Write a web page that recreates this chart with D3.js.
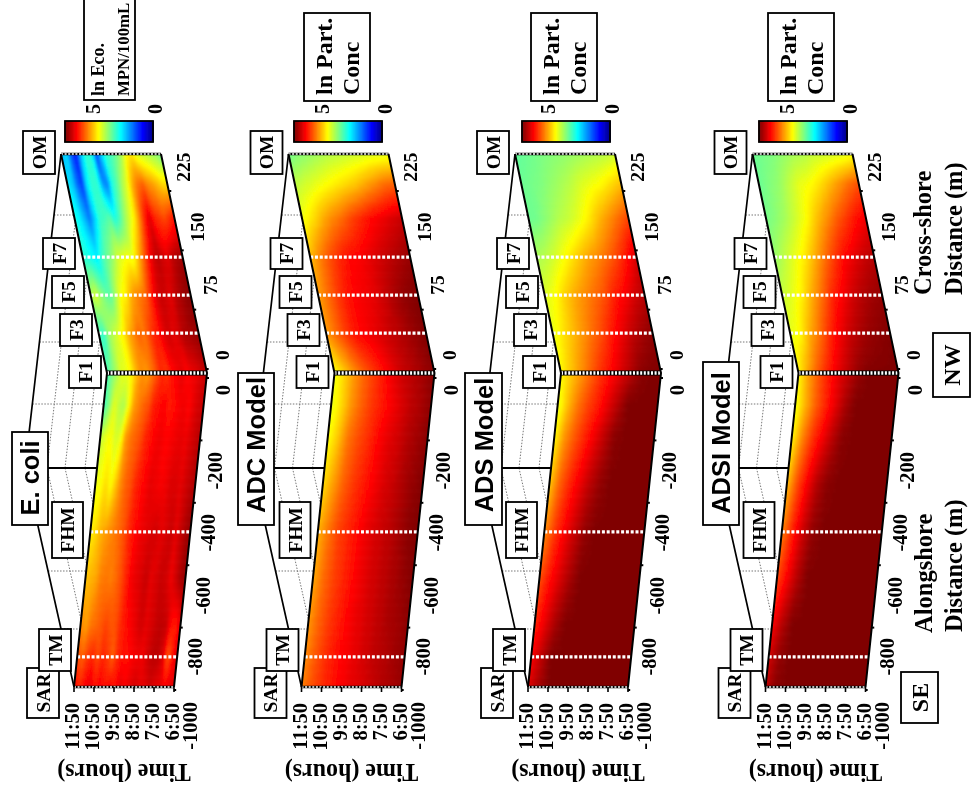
<!DOCTYPE html>
<html><head><meta charset="utf-8">
<script src="https://cdnjs.cloudflare.com/ajax/libs/d3/7.8.5/d3.min.js"></script>
<style>html,body{margin:0;padding:0;background:#fff;overflow:hidden}svg{display:block}
text{fill:#000}</style></head><body><svg id="c" width="972" height="789"></svg>
<script>
// ---------- categories and ticks ----------
const panelTitles = ["E. coli","ADC Model","ADS Model","ADSI Model"];
const timeTickLabels = ["11:50","10:50","9:50","8:50","7:50","6:50"];
const timeTickHours = [11.8333,10.8333,9.8333,8.8333,7.8333,6.8333];
const alongTicks = [-1000,-800,-600,-400,-200,0];
const crossTicks = [0,75,150,225];
const stationNames = ["SAR","TM","FHM","F1","F3","F5","F7","OM"];
const stationPos = [-1000,-904,-506,0,41,80,119,225];
// distance samples: alongshore (negative) then cross-shore (positive)
const distSamples = [-1000,-900,-800,-650,-500,-350,-200,-100,0,40,80,120,160,195,225];
const modelHours = [11.8333,11.3333,10.8333,10.3333,9.8333,9.3333,8.8333,8.3333,7.8333,7.3333,6.8333];
const ecoliHours = [11.8333,11.5833,11.3333,11.0833,10.8333,10.5833,10.3333,10.0833,9.8333,9.5833,9.3333,9.0833,8.8333,8.5833,8.3333,8.0833,7.8333,7.5833,7.3333,7.0833,6.8333];
// ---------- values: one row per distance sample, one column per time ----------
const ecoliValues = [
[4.4,4.2,4.4,4.5,4.3,4.4,4.3,4.4,4.3,4.5,4.4,4.5,4.6,4.5,4.5,4.6,4.5,4.5,4.4,4.5,4.5],
[4.0,3.9,4.1,4.2,4.0,4.2,4.1,3.9,4.2,4.3,4.3,4.4,4.45,4.45,4.6,4.7,4.7,4.5,3.9,4.3,4.6],
[3.7,3.6,3.8,3.85,3.95,4.05,3.95,4.0,4.2,4.3,4.4,4.5,4.6,4.5,4.55,4.65,4.7,4.65,4.3,4.25,4.55],
[3.4,3.5,3.55,3.75,3.8,3.75,3.85,4.0,4.2,4.4,4.5,4.55,4.65,4.5,4.55,4.65,4.6,4.45,4.6,4.8,4.9],
[3.2,3.3,3.5,3.6,3.7,3.8,3.9,4.05,4.25,4.35,4.45,4.5,4.55,4.6,4.5,4.55,4.65,4.5,4.65,4.8,4.9],
[3.05,3.1,3.3,3.1,3.4,3.7,3.9,4.0,4.2,4.3,4.4,4.5,4.45,4.4,4.45,4.55,4.55,4.5,4.6,4.7,4.8],
[2.8,3.0,3.1,2.9,3.0,3.6,3.8,3.9,4.0,4.2,4.3,4.4,4.45,4.35,4.4,4.45,4.5,4.45,4.55,4.65,4.75],
[2.2,2.5,3.0,2.8,2.7,3.1,3.6,3.75,3.9,4.0,4.25,4.3,4.4,4.25,4.3,4.4,4.45,4.35,4.5,4.6,4.65],
[2.2,2.5,2.7,3.0,3.0,3.2,3.5,3.7,3.6,3.8,4.0,4.2,4.1,4.3,4.4,4.5,4.35,4.45,4.5,4.6,4.7],
[2.2,2.1,2.6,2.8,3.0,3.2,3.5,3.7,3.9,3.8,4.0,4.2,4.3,4.5,4.6,4.5,4.6,4.75,4.8,4.85,4.9],
[2.7,2.9,2.6,2.4,2.3,2.7,3.1,3.2,3.5,3.7,3.8,3.9,4.2,4.5,4.65,4.6,4.5,4.7,4.8,4.9,4.95],
[2.1,2.0,1.9,1.8,2.2,2.4,2.6,2.9,3.0,3.1,3.0,3.4,3.8,4.2,4.55,4.7,4.6,4.5,4.7,4.8,4.85],
[2.0,1.8,1.5,1.2,1.6,2.1,2.2,2.3,2.0,2.2,2.6,2.9,3.2,3.7,4.2,4.5,4.2,4.1,4.0,4.15,4.3],
[1.8,1.6,1.1,0.9,1.8,2.1,2.1,1.4,1.2,2.0,2.3,2.7,3.0,3.5,3.8,3.9,3.7,3.6,3.45,3.3,3.3],
[1.5,1.7,1.0,0.7,1.6,2.1,2.0,0.9,1.6,2.1,2.2,2.4,2.7,3.1,3.3,3.0,2.9,2.8,2.7,2.6,2.4]];
const adcValues = [
[3.75,4.0,4.15,4.3,4.4,4.5,4.55,4.65,4.75,4.8,4.9],
[3.7,3.95,4.15,4.3,4.4,4.5,4.6,4.7,4.75,4.85,4.9],
[3.65,3.9,4.1,4.25,4.4,4.5,4.6,4.7,4.8,4.85,4.95],
[3.55,3.85,4.05,4.2,4.35,4.5,4.6,4.7,4.8,4.9,5],
[3.5,3.8,4.05,4.2,4.35,4.5,4.6,4.7,4.8,4.95,5],
[3.3,3.6,3.9,4.1,4.25,4.4,4.55,4.65,4.8,4.9,5],
[3.1,3.4,3.8,4.0,4.15,4.35,4.5,4.6,4.75,4.85,4.95],
[3.0,3.3,3.65,3.9,4.1,4.25,4.4,4.55,4.7,4.8,4.95],
[3.05,3.35,3.65,3.9,4.1,4.3,4.5,4.65,4.75,4.85,4.95],
[3.6,3.85,4.1,4.3,4.4,4.5,4.6,4.7,4.8,4.9,5],
[3.6,3.85,4.1,4.3,4.4,4.45,4.55,4.7,4.85,4.95,5],
[3.45,3.75,4.0,4.2,4.35,4.4,4.5,4.6,4.7,4.8,4.9],
[3.05,3.25,3.5,3.7,3.85,4.05,4.2,4.35,4.45,4.55,4.65],
[2.8,2.9,3.0,3.1,3.2,3.3,3.4,3.55,3.7,3.85,3.9],
[2.45,2.55,2.62,2.7,2.78,2.82,2.88,2.92,2.98,3.0,3.05]];
const adsValues = [
[4.55,4.8,5,5,5,5,5,5,5,5,5],
[4.4,4.7,5,5,5,5,5,5,5,5,5],
[4.2,4.5,4.8,5,5,5,5,5,5,5,5],
[4.0,4.3,4.55,4.8,5,5,5,5,5,5,5],
[3.7,4.1,4.4,4.65,4.9,5,5,5,5,5,5],
[3.4,3.9,4.2,4.45,4.7,4.9,5,5,5,5,5],
[3.15,3.65,3.95,4.2,4.45,4.7,4.95,5,5,5,5],
[3.0,3.45,3.8,4.05,4.25,4.5,4.75,5,5,5,5],
[3.15,3.4,3.65,3.9,4.15,4.35,4.55,4.75,4.95,5,5],
[3.0,3.25,3.45,3.65,3.85,4.05,4.3,4.5,4.7,4.85,4.95],
[2.95,3.1,3.35,3.55,3.7,3.85,4.0,4.25,4.4,4.6,4.75],
[2.7,2.8,2.95,3.15,3.35,3.55,3.7,3.85,4.05,4.3,4.6],
[2.4,2.45,2.6,2.75,2.85,3.0,3.2,3.45,3.65,3.85,4.05],
[2.4,2.45,2.5,2.6,2.7,2.8,2.95,3.05,3.15,3.3,3.45],
[2.35,2.4,2.45,2.5,2.55,2.6,2.65,2.7,2.75,2.8,2.9]];
const adsiValues = [
[4.7,4.95,5,5,5,5,5,5,5,5,5],
[4.6,4.9,5,5,5,5,5,5,5,5,5],
[4.4,4.75,5,5,5,5,5,5,5,5,5],
[4.05,4.4,4.75,5,5,5,5,5,5,5,5],
[3.75,4.2,4.6,4.9,5,5,5,5,5,5,5],
[3.45,4.0,4.4,4.75,4.95,5,5,5,5,5,5],
[3.15,3.7,4.1,4.4,4.7,4.95,5,5,5,5,5],
[3.05,3.5,3.9,4.2,4.5,4.8,5,5,5,5,5],
[3.15,3.6,3.95,4.25,4.5,4.7,4.9,5,5,5,5],
[3.0,3.15,3.55,3.85,4.2,4.45,4.65,4.8,4.9,4.95,5],
[2.85,3.0,3.2,3.55,3.85,4.2,4.4,4.6,4.75,4.85,4.9],
[2.6,2.8,3.0,3.2,3.5,3.8,4.1,4.35,4.5,4.65,4.75],
[2.45,2.55,2.7,2.9,3.1,3.4,3.65,3.9,4.1,4.3,4.45],
[2.4,2.5,2.6,2.8,3.0,3.1,3.25,3.45,3.65,3.85,4.0],
[2.4,2.45,2.5,2.6,2.7,2.75,2.85,2.9,2.95,3.0,3.1]];
const panelValues = [ecoliValues,adcValues,adsValues,adsiValues];
const panelHours = [ecoliHours,modelHours,modelHours,modelHours];
const colorbarLevels = d3.range(0,5.001,0.05);
// ---------- layout ----------
const SERIF = "'Liberation Serif','Times New Roman',serif", SANS = "'Liberation Sans',Arial,sans-serif";
const panelDx = [0,227.5,454,691.5];
const barX = [65,294,522,759];
const legX = [84,304,531,768];
const legW = [51,66,66,66];
const barDigitX = [[93,155],[322,385],[548,612],[787,850]];
const titleBox = [[12,48,432,525,30,478],[238,274,373,525,256,445],[465,502,373,525,483.5,445],[703,739,362,525,721,443]];
const stationBox = [[27,59,668,718],[39,71,629,671],[52,83,502,558],[69,101,356,388],[60,92,314,346],[52,84,276,308],[43,75,238,269],[23,55,131,174]];

const jet = d3.scaleLinear().domain([0,.625,1.875,3.125,4.375,5])
  .range(["#000080","#0000ff","#00ffff","#ffff00","#ff0000","#800000"]).clamp(true);
const distY = d3.scaleLinear().domain([-1000,0,225]).range([687,373,154]);
const distX = d3.scaleLinear().domain([-1000,0,225]).range([74,107,61]);
const timeW = d3.scaleLinear().domain([11.8333,6.8333]).range([0,100]);
const alongTickY = d3.scaleLinear().domain([-1000,0]).range([690,378]);
const crossTickY = d3.scaleLinear().domain([0,225]).range([369,191]);
const alongLabelX = d3.scaleLinear().domain(alongTicks).range([190,195,203,208,215,223]);
const alongLabelY = d3.scaleLinear().domain(alongTicks).range([702,638,577,514,452,385]);
const crossLabelX = d3.scaleLinear().domain(crossTicks).range([222,210,197,183]);
const crossLabelY = d3.scaleLinear().domain(crossTicks).range([355,285,227,167]);
const wallApex = [25,468];
const wallRows = [215,342,404,571,629];
const wallCols = [22,40,60];

const svg = d3.select("#c");
const defs = svg.append("defs");
defs.append("filter").attr("id","soft").attr("x","-5%").attr("y","-5%").attr("width","110%").attr("height","110%")
  .append("feGaussianBlur").attr("stdDeviation",1.0);
defs.append("filter").attr("id","img").attr("filterUnits","userSpaceOnUse").attr("x",0).attr("y",0).attr("width",972).attr("height",789)
  .append("feGaussianBlur").attr("stdDeviation",0.45);
const root = svg.append("g").attr("filter","url(#img)");

function rotText(g,x,y,str,size,anchor,fam,angle){
  return g.append("text").attr("transform",`translate(${x},${y}) rotate(${angle===undefined?-90:angle})`)
    .attr("text-anchor",anchor||"middle").attr("dominant-baseline","central")
    .attr("font-family",fam||SERIF).attr("font-weight","bold").attr("font-size",size).text(str);
}
function box(g,x0,x1,y0,y1){
  return g.append("rect").attr("x",x0).attr("y",y0).attr("width",x1-x0).attr("height",y1-y0)
    .attr("fill","#fff").attr("stroke","#000").attr("stroke-width",1.8);
}
const edgeLine = d3.line();

panelTitles.forEach((title,p)=>{
  const dx = panelDx[p], values = panelValues[p], hours = panelHours[p];
  const g = root.append("g").attr("transform",`translate(${dx},0)`);
  const leftEdge = [225,0,-1000].map(s=>[distX(s),distY(s)]);
  const rightEdge = [225,0,-1000].map(s=>[distX(s)+timeW.range()[1],distY(s)]);
  // walls
  const frontAt = y => { const s = distY.invert(y); return distX(s); };
  const wallEdgeX = y => y<wallApex[1] ? wallApex[0]+(wallApex[1]-y)*((distX(225)-wallApex[0])/(wallApex[1]-distY(225)))
                                       : wallApex[0]+(y-wallApex[1])*((distX(-1000)-wallApex[0])/(distY(-1000)-wallApex[1]));
  const dots = g.append("g").attr("stroke","#777").attr("stroke-width",1).attr("stroke-dasharray","1.5 1.5").attr("fill","none");
  wallRows.forEach(y=>dots.append("path").attr("d",edgeLine([[wallEdgeX(y),y],[frontAt(y),y]])));
  wallCols.forEach(c=>{
    [[225],[-1000]].forEach(([endS])=>{
      const endY=distY(endS), endX=wallEdgeX(endY);
      // walk parallel to the wall edge until the surface is reached
      const k=(endX-wallApex[0])/(endY-wallApex[1]);
      let y=wallApex[1]; const st=endY<y?-1:1;
      while(y!==endY && wallApex[0]+c+(y-wallApex[1])*k < frontAt(y)) y+=st;
      dots.append("path").attr("d",edgeLine([[wallApex[0]+c,wallApex[1]],[wallApex[0]+c+(y-wallApex[1])*k,y]]));
    });
  });
  g.append("path").attr("fill","none").attr("stroke","#000").attr("stroke-width",1.7)
    .attr("d",edgeLine([[distX(225),distY(225)],wallApex,[distX(-1000),distY(-1000)]]));
  g.append("path").attr("fill","none").attr("stroke","#000").attr("stroke-width",2)
    .attr("d",edgeLine([wallApex,[frontAt(wallApex[1]),wallApex[1]]]));
  // surface
  const clipId = "clip"+p;
  const poly = leftEdge.concat(rightEdge.slice().reverse());
  defs.append("clipPath").attr("id",clipId).append("path").attr("d",edgeLine(poly)+"Z");
  const sIdx = d3.scaleLinear().domain(distSamples).range(d3.range(distSamples.length)).clamp(true);
  const tIdx = d3.scaleLinear().domain(hours).range(d3.range(hours.length)).clamp(true);
  const valueAt = (s,t)=>{
    const a=sIdx(s), b=tIdx(t);
    const a0=Math.min(Math.floor(a),distSamples.length-2), b0=Math.min(Math.floor(b),hours.length-2);
    const fa=a-a0, fb=b-b0;
    return d3.interpolateNumber(
      d3.interpolateNumber(values[a0][b0],values[a0][b0+1])(fb),
      d3.interpolateNumber(values[a0+1][b0],values[a0+1][b0+1])(fb))(fa);
  };
  const cells=[];
  const stepY=2, stepW=2;
  d3.range(148,694,stepY).forEach(y=>{
    const s=distY.invert(y);
    d3.range(-8,108,stepW).forEach(w=>{
      const v=valueAt(s,timeW.invert(w+stepW/2));
      cells.push({x:distX(s)+w,y,level:Math.round(v*40)/40});
    });
  });
  const surf=g.append("g").attr("clip-path",`url(#${clipId})`).append("g").attr("filter","url(#soft)");
  surf.selectAll("path").data(d3.groups(cells,d=>d.level).sort((a,b)=>a[0]-b[0])).join("path")
    .attr("fill",d=>jet(d[0]))
    .attr("d",d=>d[1].map(c=>`M${c.x.toFixed(1)} ${c.y}h${stepW+.6}v${stepY+.6}h${-(stepW+.6)}z`).join(""));
  // station lines
  stationPos.forEach((s,i)=>{
    const y=distY(s), a=[distX(s),y], b=[distX(s)+100,y];
    const name=stationNames[i];
    if(name==="SAR"||name==="OM"||name==="F1"){
      g.append("path").attr("d",edgeLine([a,b])).attr("stroke","#000").attr("stroke-width",name==="F1"?5:2.5);
    }
    g.append("path").attr("d",edgeLine([a,b])).attr("stroke","#fff")
      .attr("stroke-width",(name==="SAR"||name==="OM")?1.5:3.4)
      .attr("stroke-dasharray",(name==="SAR"||name==="OM"||name==="F1")?"2 1.6":"3 1.8");
  });
  // surface edges
  [leftEdge,rightEdge].forEach(e=>g.append("path").attr("d",edgeLine(e)).attr("fill","none").attr("stroke","#000").attr("stroke-width",2));
  // time axis
  timeTickHours.forEach((h,i)=>{
    const x=distX(-1000)+timeW(h);
    g.append("path").attr("d",edgeLine([[x,687],[x,692]])).attr("stroke","#000").attr("stroke-width",1.6);
    rotText(g,x-2,703,timeTickLabels[i],20.5,"end");
  });
  // distance ticks
  const tickGroup=g.append("g").attr("stroke","#000").attr("stroke-width",2);
  alongTicks.forEach(t=>{
    const y=alongTickY(t), x=distX(distY.invert(y))+100;
    tickGroup.append("path").attr("d",edgeLine([[x,y],[x+2.5,y]]));
    rotText(g,alongLabelX(t),alongLabelY(t),t,20.5,"end");
  });
  crossTicks.forEach(t=>{
    const y=crossTickY(t), x=distX(distY.invert(y))+100;
    tickGroup.append("path").attr("d",edgeLine([[x,y],[x+2.5,y]]));
    rotText(g,crossLabelX(t),crossLabelY(t),t,19.5,"middle");
  });
  // station boxes
  stationNames.forEach((n,i)=>{
    const b=stationBox[i];
    box(g,b[0],b[1],b[2],b[3]);
    rotText(g,(b[0]+b[1])/2,(b[2]+b[3])/2,n,19.5);
  });
  // time label
  g.append("text").attr("transform","translate(124,773) rotate(180) scale(1,1.08)")
    .attr("text-anchor","middle").attr("dominant-baseline","central")
    .attr("font-family",SERIF).attr("font-weight","bold").attr("font-size",24).text("Time (hours)");
  // panel title
  const tb=titleBox[p];
  box(root,tb[0],tb[1],tb[2],tb[3]);
  rotText(root,tb[4],tb[5],title,25.5,"middle",SANS);
  // colour bar
  const bx=barX[p];
  const barScale=d3.scaleLinear().domain([5,0]).range([bx,bx+88]);
  root.append("g").selectAll("rect").data(colorbarLevels).join("rect")
    .attr("x",v=>barScale(v)-.6).attr("y",121).attr("width",1.6).attr("height",21).attr("fill",v=>jet(v));
  root.append("rect").attr("x",bx).attr("y",121).attr("width",88).attr("height",21).attr("fill","none").attr("stroke","#000").attr("stroke-width",1.8);
  rotText(root,barDigitX[p][0],109,"5",20);
  rotText(root,barDigitX[p][1],109,"0",20);
  // legend box
  const lx=legX[p], lw=legW[p];
  if(p===0){
    box(root,lx,lx+lw,-6,100);
    rotText(root,lx+14,96,"ln Eco.",18,"start");
    rotText(root,lx+39,96,"MPN/100mL",16.8,"start");
  }else{
    box(root,lx,lx+lw,13,101);
    rotText(root,lx+20,95,"ln Part.",24,"start");
    rotText(root,lx+47,95,"Conc",24,"start");
  }
});
// direction and axis titles
box(root,901,938,672,723); rotText(root,919.5,697.5,"SE",24);
box(root,933,970,333,397); rotText(root,951.5,365,"NW",24);
rotText(root,923,633,"Alongshore",24.5,"start");
rotText(root,953,632,"Distance (m)",24.5,"start");
rotText(root,922,295,"Cross-shore",24.5,"start");
rotText(root,953,295,"Distance (m)",24.5,"start");
</script></body></html>
